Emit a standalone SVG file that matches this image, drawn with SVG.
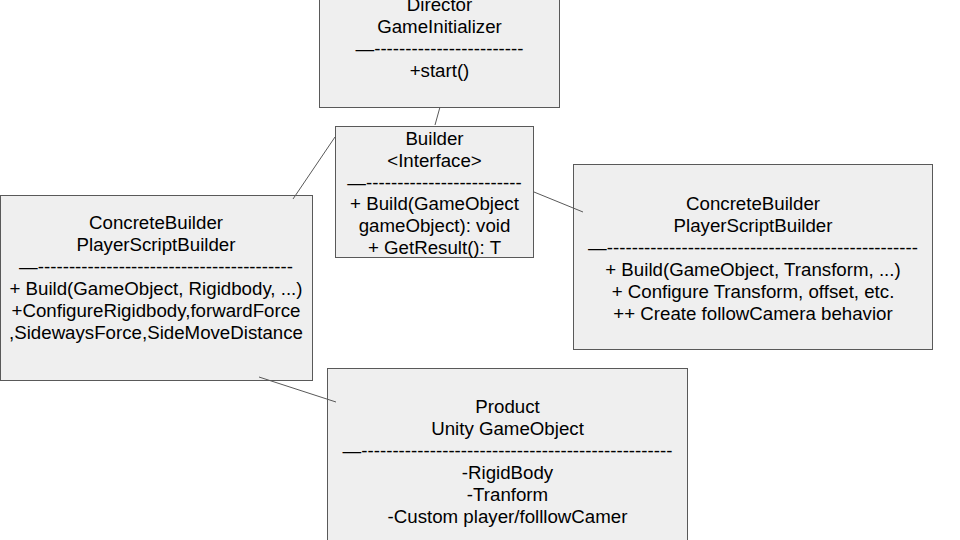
<svg xmlns="http://www.w3.org/2000/svg" width="960" height="540" viewBox="0 0 960 540">
<style>
.box{fill:#efefef;stroke:#595959;stroke-width:1}
.t{font-family:"Liberation Sans",Arial,sans-serif;font-size:18.7px;fill:#000;text-anchor:middle}
.c{stroke:#595959;stroke-width:1;fill:none}
</style>
<rect width="960" height="540" fill="#fff"/>
<g id="director">
<rect class="box" x="319.5" y="-10" width="240" height="117.5"/>
<text class="t" x="439.5" y="11">Director</text>
<text class="t" x="439.5" y="33">GameInitializer</text>
<text class="t" x="439.5" y="55">—------------------------</text>
<text class="t" x="439.5" y="77">+start()</text>
</g>
<g id="builder">
<rect class="box" x="335.5" y="126.5" width="198" height="131"/>
<text class="t" x="434.5" y="145">Builder</text>
<text class="t" x="434.5" y="167">&lt;Interface&gt;</text>
<text class="t" x="434.5" y="189">—-------------------------</text>
<text class="t" x="434.5" y="210">+ Build(GameObject</text>
<text class="t" x="434.5" y="232">gameObject): void</text>
<text class="t" x="434.5" y="254">+ GetResult(): T</text>
</g>
<g id="concrete-left">
<rect class="box" x="0.5" y="195.5" width="312" height="185"/>
<text class="t" x="156" y="229">ConcreteBuilder</text>
<text class="t" x="156" y="251">PlayerScriptBuilder</text>
<text class="t" x="156" y="273">—-----------------------------------------</text>
<text class="t" x="156" y="295">+ Build(GameObject, Rigidbody, ...)</text>
<text class="t" x="156" y="317">+ConfigureRigidbody,forwardForce</text>
<text class="t" x="156" y="339">,SidewaysForce,SideMoveDistance</text>
</g>
<g id="concrete-right">
<rect class="box" x="573.5" y="164.5" width="359" height="185"/>
<text class="t" x="753" y="210">ConcreteBuilder</text>
<text class="t" x="753" y="232">PlayerScriptBuilder</text>
<text class="t" x="753" y="254">—--------------------------------------------------</text>
<text class="t" x="753" y="276">+ Build(GameObject, Transform, ...)</text>
<text class="t" x="753" y="298">+ Configure Transform, offset, etc.</text>
<text class="t" x="753" y="320">++ Create followCamera behavior</text>
</g>
<g id="product">
<rect class="box" x="327.5" y="368.5" width="360" height="185"/>
<text class="t" x="507.5" y="413">Product</text>
<text class="t" x="507.5" y="435">Unity GameObject</text>
<text class="t" x="507.5" y="457">—--------------------------------------------------</text>
<text class="t" x="507.5" y="479">-RigidBody</text>
<text class="t" x="507.5" y="501">-Tranform</text>
<text class="t" x="507.5" y="523">-Custom player/folllowCamer</text>
</g>
<g id="connectors">
<line class="c" x1="440" y1="107" x2="435" y2="125"/>
<line class="c" x1="335" y1="137" x2="293" y2="199"/>
<line class="c" x1="534" y1="192" x2="583" y2="212"/>
<line class="c" x1="259" y1="377" x2="336" y2="402"/>
</g>
</svg>
